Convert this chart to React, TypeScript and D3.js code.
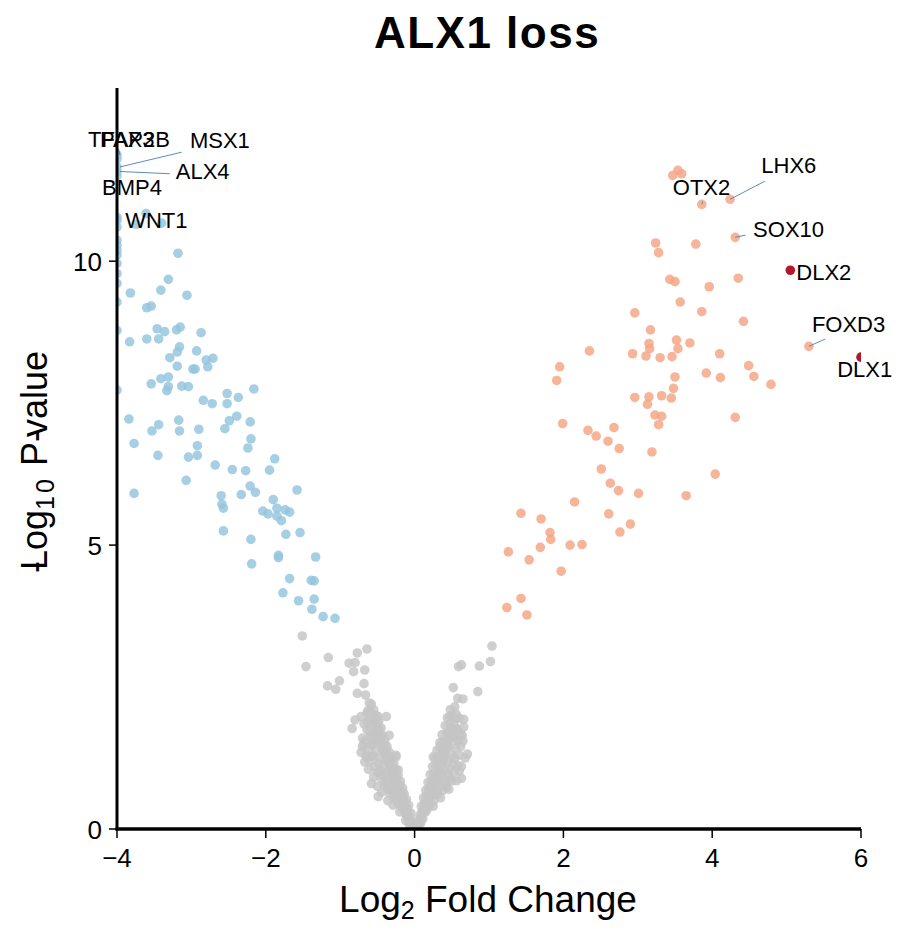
import React from "react";
import * as d3 from "d3";

// log2 fold change, -log10 p-value
const downGenes: [number, number][] = [
  [-4, 10.77], [-4, 10.6], [-4, 10.37], [-4, 10.28], [-4, 10.19], [-4, 10.11], [-4, 9.96],
  [-4, 9.78], [-4, 9.61], [-4, 9.28], [-4, 8.78], [-4, 7.73],
  [-3.61, 10.84], [-3.4, 10.67], [-3.74, 10.65],
  [-3.18, 10.14], [-3.31, 9.68], [-3.41, 9.49], [-3.82, 9.44], [-3.06, 9.4], [-3.6, 9.18],
  [-3.54, 9.21], [-3.46, 8.81], [-3.36, 8.76], [-3.2, 8.79], [-3.15, 8.84], [-3.83, 8.58],
  [-3.6, 8.63], [-3.44, 8.63], [-2.87, 8.74], [-3.16, 8.49], [-3.19, 8.4], [-2.93, 8.42],
  [-3.29, 8.3], [-3.19, 8.15], [-2.98, 8.1], [-2.95, 8.1], [-2.8, 8.26], [-2.71, 8.29],
  [-2.78, 8.14], [-3.54, 7.84], [-3.41, 7.93], [-3.31, 7.96], [-3.31, 7.79], [-3.33, 7.72],
  [-3.13, 7.8], [-3.04, 7.79], [-2.84, 7.55], [-2.72, 7.49], [-2.52, 7.67], [-2.52, 7.49],
  [-2.37, 7.6], [-2.16, 7.75], [-2.39, 7.27], [-2.49, 7.19], [-2.55, 7.05], [-2.21, 7.17],
  [-2.2, 6.87], [-2.24, 6.71], [-3.84, 7.22], [-3.44, 7.12], [-3.53, 7.01], [-3.17, 7.2],
  [-3.16, 7.01], [-2.9, 7.04], [-3.77, 6.79], [-3.45, 6.58], [-3.04, 6.55], [-2.92, 6.58],
  [-2.92, 6.75], [-3.07, 6.14], [-2.68, 6.41], [-2.45, 6.33], [-2.27, 6.31], [-1.95, 6.32],
  [-1.88, 6.52], [-3.77, 5.91], [-2.6, 5.87], [-2.59, 5.72], [-2.57, 5.65], [-2.33, 5.89],
  [-2.21, 6.04], [-2.14, 5.93], [-1.58, 5.97], [-1.9, 5.8], [-1.85, 5.65], [-2.04, 5.6],
  [-1.97, 5.55], [-1.85, 5.51], [-1.79, 5.43], [-1.74, 5.62], [-1.68, 5.58], [-2.57, 5.25],
  [-2.2, 5.1], [-1.73, 5.19], [-1.54, 5.22], [-2.19, 4.67], [-1.83, 4.82], [-1.83, 4.78],
  [-1.33, 4.79], [-1.68, 4.41], [-1.39, 4.38], [-1.35, 4.37], [-1.77, 4.16], [-1.56, 4.02],
  [-1.35, 4.05], [-1.38, 3.87], [-1.23, 3.74], [-1.07, 3.71],
];

const upGenes: [number, number][] = [
  [3.54, 11.6], [3.47, 11.51], [3.59, 11.54],
  [3.24, 10.32], [3.28, 10.15], [3.78, 10.3], [3.43, 9.68], [3.5, 9.64], [3.96, 9.55],
  [4.35, 9.7], [3.57, 9.28], [2.96, 9.09], [3.86, 9.11], [4.42, 8.94], [3.17, 8.79],
  [2.35, 8.42], [3.15, 8.55], [3.16, 8.46], [3.52, 8.61], [3.54, 8.46], [3.7, 8.56],
  [2.93, 8.37], [3.11, 8.33], [3.3, 8.3], [3.46, 8.32], [4.1, 8.37], [1.95, 8.14],
  [1.91, 7.9], [3.92, 8.03], [4.11, 7.95], [4.49, 8.16], [4.56, 7.97], [4.79, 7.83],
  [3.5, 7.96], [3.48, 7.76], [2.96, 7.6], [3.15, 7.61], [3.13, 7.48], [3.32, 7.63],
  [3.45, 7.59], [3.23, 7.29], [3.32, 7.27], [3.28, 7.12], [4.31, 7.25], [1.99, 7.14],
  [2.33, 7.02], [2.44, 6.92], [2.6, 6.83], [2.68, 7.07], [2.75, 6.7], [3.19, 6.64],
  [2.51, 6.34], [4.04, 6.25], [2.63, 6.09], [2.74, 5.96], [3.01, 5.91], [3.65, 5.87],
  [2.15, 5.76], [1.43, 5.56], [1.7, 5.46], [1.82, 5.22], [1.83, 5.1], [1.69, 4.96],
  [2.61, 5.55], [2.9, 5.37], [2.76, 5.23], [2.09, 5.0], [2.25, 5.01], [1.26, 4.88],
  [1.54, 4.74], [1.97, 4.54], [1.43, 4.06], [1.24, 3.9], [1.51, 3.77],
];

const notSig: [number, number][] = [
  [-1.51, 3.4], [-1.46, 2.86], [-1.16, 3.02], [-0.64, 3.17], [-0.77, 3.1], [-0.88, 2.92],
  [-0.8, 2.93], [-0.82, 2.77], [-0.67, 2.8], [-1.17, 2.52], [-1.06, 2.46], [-1.01, 2.61],
  [-0.68, 2.56], [-0.77, 2.39], [-0.66, 2.36], [-0.61, 2.22], [-0.64, 2.04], [-0.72, 1.98],
  [-0.8, 1.92], [-0.84, 1.77], [-0.49, 1.98], [-0.38, 1.98], [-0.69, 1.48], [-0.58, 1.48],
  [-0.65, 1.27], [-0.25, 1.27], [-0.34, 1.65], [-0.58, 0.8], [-0.49, 0.57], [-0.22, 1.04],
  [-0.02, 0.05], [-0.04, 0.12], [-0.06, 0.2], [-0.05, 0.28], [-0.09, 0.3], [-0.08, 0.42],
  [-0.12, 0.38], [-0.11, 0.52], [-0.15, 0.5], [-0.14, 0.62], [-0.18, 0.6], [-0.16, 0.72],
  [-0.21, 0.7], [-0.19, 0.84], [-0.24, 0.8], [-0.22, 0.95], [-0.27, 0.9], [-0.25, 1.05],
  [-0.3, 1.0], [-0.28, 1.15], [-0.33, 1.1], [-0.31, 1.25], [-0.36, 1.2], [-0.34, 1.35],
  [-0.4, 1.3], [-0.37, 1.45], [-0.43, 1.4], [-0.4, 1.55], [-0.46, 1.5], [-0.43, 1.65],
  [-0.5, 1.6], [-0.45, 1.78], [-0.53, 1.72], [-0.48, 1.9], [-0.56, 1.85], [-0.52, 2.0],
  [-0.6, 1.95], [-0.55, 2.1], [-0.63, 2.08], [-0.58, 2.2], [-0.2, 0.55], [-0.26, 0.65],
  [-0.3, 0.78], [-0.35, 0.88], [-0.38, 1.0], [-0.42, 1.12], [-0.47, 1.25], [-0.52, 1.38],
  [-0.56, 1.5], [-0.6, 1.62], [-0.64, 1.75], [-0.1, 0.22], [-0.13, 0.28], [-0.17, 0.4],
  [-0.23, 0.45], [-0.28, 0.55], [-0.33, 0.62], [-0.37, 0.7], [-0.41, 0.78], [-0.45, 0.9],
  [-0.5, 1.0], [-0.54, 1.1], [-0.6, 1.2], [-0.65, 1.3], [-0.07, 0.08], [-0.03, 0.02],
  [-0.12, 0.15], [-0.2, 0.3], [-0.29, 0.42], [-0.36, 0.5], [-0.44, 0.65], [-0.5, 0.75],
  [-0.55, 0.92], [-0.62, 1.05], [-0.67, 1.18], [-0.72, 1.35], [-0.7, 1.6], [-0.68, 1.85],
  [-0.25, 1.3], [-0.46, 1.02], [-0.39, 0.82], [-0.31, 0.68], [-0.57, 1.28], [-0.53, 1.55],
  [-0.08, 0.18], [-0.1, 0.35], [-0.14, 0.45], [-0.17, 0.55], [-0.21, 0.62], [-0.23, 0.75],
  [-0.26, 0.85], [-0.29, 0.95], [-0.32, 1.05], [-0.35, 1.15], [-0.38, 1.25], [-0.41, 1.35],
  [-0.44, 1.45], [-0.47, 1.58], [-0.5, 1.7], [-0.52, 1.82], [-0.54, 1.95], [-0.62, 1.4],
  [-0.66, 1.55], [-0.6, 1.72], [-0.55, 1.28], [-0.48, 1.15], [-0.42, 0.95], [-0.38, 0.85],
  [-0.34, 0.75], [-0.27, 0.6], [-0.24, 0.52], [-0.19, 0.45], [-0.15, 0.35], [-0.11, 0.25],
  [-0.06, 0.12], [-0.16, 0.65], [-0.2, 0.78], [-0.24, 0.9], [-0.28, 1.02], [-0.31, 1.12],
  [-0.35, 1.28], [-0.38, 1.38], [-0.41, 1.48], [-0.45, 1.62], [-0.48, 1.75], [-0.51, 1.88],
  [-0.57, 1.62], [-0.63, 1.88], [-0.59, 2.05], [-0.7, 1.45],
  [1.04, 3.22], [1.02, 2.95], [0.87, 2.87], [0.59, 2.86], [0.63, 2.89], [0.52, 2.49],
  [0.85, 2.42], [0.58, 2.3], [0.65, 2.29], [0.47, 1.98], [0.66, 1.93], [0.56, 1.77],
  [0.52, 1.65], [0.64, 1.65], [0.71, 1.32], [0.34, 1.45], [0.63, 1.1], [0.63, 0.89],
  [0.25, 1.27], [0.43, 0.74],
  [0.03, 0.06], [0.05, 0.15], [0.07, 0.24], [0.1, 0.3], [0.09, 0.4], [0.13, 0.45],
  [0.12, 0.55], [0.16, 0.58], [0.15, 0.68], [0.19, 0.7], [0.18, 0.82], [0.23, 0.85],
  [0.21, 0.96], [0.26, 0.98], [0.24, 1.1], [0.29, 1.12], [0.27, 1.24], [0.32, 1.27],
  [0.3, 1.38], [0.36, 1.4], [0.34, 1.52], [0.39, 1.55], [0.37, 1.66], [0.43, 1.7],
  [0.41, 1.82], [0.47, 1.85], [0.44, 1.96], [0.5, 2.0], [0.48, 2.1], [0.54, 2.15],
  [0.22, 0.6], [0.28, 0.72], [0.33, 0.85], [0.37, 0.95], [0.41, 1.05], [0.45, 1.18],
  [0.5, 1.3], [0.55, 1.42], [0.59, 1.55], [0.62, 1.68], [0.66, 1.8], [0.6, 1.3],
  [0.11, 0.18], [0.15, 0.3], [0.2, 0.42], [0.26, 0.5], [0.31, 0.6], [0.38, 0.68],
  [0.43, 0.8], [0.48, 0.9], [0.53, 1.0], [0.58, 1.12], [0.68, 1.25], [0.04, 0.03],
  [0.08, 0.1], [0.17, 0.35], [0.25, 0.4], [0.35, 0.55], [0.46, 0.7], [0.56, 0.85],
  [0.4, 1.35], [0.52, 1.62], [0.58, 1.75], [0.6, 1.95], [0.56, 2.02], [0.46, 1.45],
  [0.39, 1.2], [0.33, 1.05], [0.28, 0.9],
  [0.06, 0.1], [0.09, 0.2], [0.12, 0.3], [0.14, 0.4], [0.17, 0.48], [0.2, 0.55],
  [0.22, 0.68], [0.25, 0.78], [0.28, 0.82], [0.3, 0.95], [0.33, 1.0], [0.35, 1.12],
  [0.38, 1.25], [0.41, 1.3], [0.43, 1.42], [0.46, 1.55], [0.48, 1.62], [0.5, 1.75],
  [0.53, 1.85], [0.55, 1.95], [0.52, 1.15], [0.47, 1.05], [0.44, 0.95], [0.4, 0.85],
  [0.36, 0.78], [0.32, 0.7], [0.29, 0.62], [0.24, 0.6], [0.19, 0.5], [0.13, 0.38],
  [0.18, 0.62], [0.21, 0.75], [0.26, 0.88], [0.31, 1.18], [0.36, 1.3], [0.42, 1.5],
  [0.45, 1.68], [0.49, 1.78], [0.57, 1.55], [0.62, 1.45], [0.65, 1.55], [0.54, 1.25],
  [0.6, 1.02], [0.5, 0.85],
];

// labelled genes: name, lfc, logp, group
const labelled: [string, number, number, string][] = [
  ["TFAP2B", -4, 11.87, "down"], ["PAX3", -4, 11.8, "down"], ["MSX1", -4, 11.66, "down"],
  ["ALX4", -4, 11.58, "down"], ["BMP4", -4, 11.5, "down"], ["WNT1", -4, 10.72, "down"],
  ["OTX2", 3.86, 11.0, "up"], ["LHX6", 4.24, 11.09, "up"], ["SOX10", 4.31, 10.42, "up"],
  ["DLX2", 5.05, 9.84, "key"], ["FOXD3", 5.3, 8.5, "up"], ["DLX1", 6.0, 8.31, "key"],
];

// repelled label anchors (text start / baseline) and segment ends, in data units
const labelPos: Record<string, number[]> = {
  TFAP2B: [-4.39, 12.01, -3.98, 11.98],
  PAX3: [-4.23, 12.01],
  MSX1: [-3.02, 11.99, -3.13, 11.92],
  ALX4: [-3.21, 11.44, -3.29, 11.54],
  BMP4: [-4.2, 11.16],
  WNT1: [-3.89, 10.58],
  OTX2: [3.47, 11.16, 3.87, 11.05],
  LHX6: [4.66, 11.55, 4.71, 11.41],
  SOX10: [4.55, 10.42, 4.45, 10.46],
  DLX2: [5.13, 9.67],
  FOXD3: [5.34, 8.75, 5.52, 8.63],
  DLX1: [5.68, 7.96],
};

const xTicks = [-4, -2, 0, 2, 4, 6];
const yTicks = [0, 5, 10];

const colors: Record<string, string> = {
  down: "#92c5de",
  up: "#f4a582",
  ns: "#c4c4c4",
  key: "#b2182b",
};

const font = "'Liberation Sans', Arial, Helvetica, sans-serif";

const App = () => {
  const x = d3.scaleLinear().domain([-4, 6]).range([117, 861]);
  const y = d3.scaleLinear().domain([0, 13.05]).range([829, 88]);
  const r = 4.8;
  const fmt = (t: number) => (t < 0 ? "\u2212" + Math.abs(t) : String(t));

  const dots = (data: [number, number][], key: string) =>
    data.map((d, i) => (
      <circle
        key={key + i}
        cx={x(d[0])}
        cy={y(d[1])}
        r={r}
        fill={colors[key]}
        fillOpacity={0.82}
      />
    ));

  return (
    <svg
      width={914}
      height={940}
      style={{ position: "absolute", left: 0, top: 0, background: "#fff" }}
      fontFamily={font}
    >
      <defs>
        <clipPath id="panel">
          <rect x={117} y={60} width={744} height={769} />
        </clipPath>
      </defs>

      <text x={487} y={48} textAnchor="middle" fontSize={44} fontWeight="bold" letterSpacing={1.5}>
        ALX1 loss
      </text>

      <g clipPath="url(#panel)">
        {dots(notSig, "ns")}
        {dots(downGenes, "down")}
        {dots(upGenes, "up")}
        {labelled.map(([g, lx, ly, grp]) => (
          <circle
            key={g}
            cx={x(lx)}
            cy={y(ly)}
            r={r}
            fill={colors[grp]}
            fillOpacity={grp === "key" ? 1 : 0.82}
          />
        ))}
      </g>

      {/* segments + labels */}
      {labelled.map(([g, lx, ly]) => {
        const p = labelPos[g];
        return (
          <g key={"lab" + g}>
            {p.length > 2 && (
              <line
                x1={x(lx) + (lx === -4 ? 3 : 0)}
                y1={y(ly)}
                x2={x(p[2])}
                y2={y(p[3])}
                stroke="#4a7fb0"
                strokeWidth={0.9}
              />
            )}
            <text x={x(p[0])} y={y(p[1])} fontSize={22} fill="#000">
              {g}
            </text>
          </g>
        );
      })}

      {/* axes */}
      <line x1={117} x2={117} y1={88} y2={830.5} stroke="#000" strokeWidth={3} />
      <line x1={115.5} x2={861} y1={829} y2={829} stroke="#000" strokeWidth={3.5} />
      {yTicks.map((t) => (
        <g key={"y" + t}>
          <line x1={109} x2={117} y1={y(t)} y2={y(t)} stroke="#000" strokeWidth={1.5} />
          <text x={102} y={y(t) + 9.5} textAnchor="end" fontSize={26}>
            {t}
          </text>
        </g>
      ))}
      {xTicks.map((t) => (
        <g key={"x" + t}>
          <line x1={x(t)} x2={x(t)} y1={829} y2={838} stroke="#000" strokeWidth={1.5} />
          <text x={x(t)} y={867} textAnchor="middle" fontSize={26}>
            {fmt(t)}
          </text>
        </g>
      ))}

      <text x={488} y={912} textAnchor="middle" fontSize={37}>
        Log<tspan fontSize={25} dy={7}>2</tspan>
        <tspan dy={-7}> Fold Change</tspan>
      </text>

      <text transform="translate(47,462) rotate(-90)" textAnchor="middle" fontSize={36}>
        -<tspan dx={-9}>Log</tspan>
        <tspan fontSize={25} dy={7} letterSpacing={3}>10</tspan>
        <tspan dy={-7}> P</tspan>
        -<tspan dx={-7}>value</tspan>
      </text>
    </svg>
  );
};

export default App;
